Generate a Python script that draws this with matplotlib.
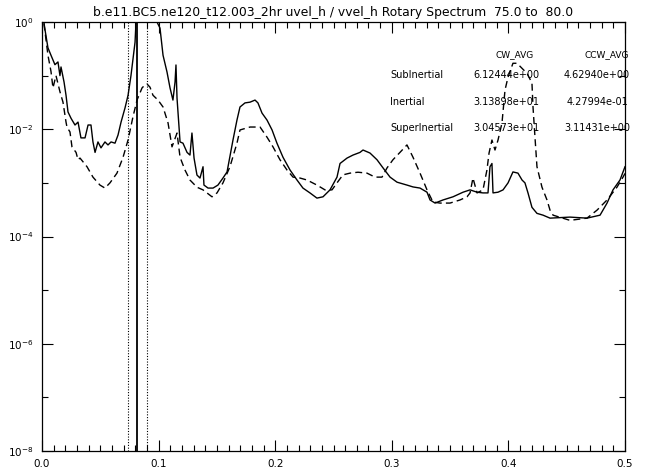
import numpy as np
import matplotlib
matplotlib.use("Agg")
import matplotlib.pyplot as plt
from matplotlib.ticker import FixedLocator, FuncFormatter, MultipleLocator

# Clockwise rotary power spectrum (solid)
cw_freq = [0.0005, 0.0023, 0.0051, 0.0077, 0.0111, 0.0137, 0.0154, 0.0163, 0.0189, 0.0206,
           0.0223, 0.0249, 0.0283, 0.0309, 0.0334, 0.0369, 0.0395, 0.0420, 0.0437, 0.0455,
           0.0480, 0.0506, 0.0540, 0.0566, 0.0592, 0.0626, 0.0652, 0.0678, 0.0712, 0.0738,
           0.0763, 0.0798, 0.0806, 0.0850, 0.0930, 0.0986, 0.1012, 0.1038, 0.1072, 0.1098,
           0.1123, 0.1141, 0.1149, 0.1158, 0.1184, 0.1209, 0.1244, 0.1269, 0.1286, 0.1304,
           0.1329, 0.1355, 0.1381, 0.1389, 0.1424, 0.1467, 0.1509, 0.1552, 0.1587, 0.1638,
           0.1672, 0.1698, 0.1741, 0.1784, 0.1827, 0.1852, 0.1887, 0.1930, 0.1973, 0.2015,
           0.2067, 0.2127, 0.2187, 0.2238, 0.2298, 0.2358, 0.2410, 0.2470, 0.2530, 0.2556,
           0.2616, 0.2667, 0.2727, 0.2753, 0.2813, 0.2873, 0.2925, 0.2985, 0.3045, 0.3130,
           0.3182, 0.3242, 0.3302, 0.3328, 0.3371, 0.3439, 0.3525, 0.3611, 0.3671, 0.3731,
           0.3782, 0.3825, 0.3842, 0.3859, 0.3868, 0.3911, 0.3954, 0.3997, 0.4039, 0.4082,
           0.4117, 0.4142, 0.4168, 0.4202, 0.4245, 0.4297, 0.4357, 0.4528, 0.4674, 0.4786,
           0.4846, 0.4897, 0.4957, 0.5000]
cw_power = [1.5, 0.78, 0.33, 0.24, 0.16, 0.18, 0.10, 0.145, 0.076, 0.043,
            0.021, 0.016, 0.012, 0.0136, 0.0069, 0.0069, 0.012, 0.012, 0.0058, 0.0037,
            0.0058, 0.0045, 0.0058, 0.0051, 0.0058, 0.0055, 0.0078, 0.0136, 0.025, 0.043,
            0.10, 0.42, 1.0, 30.0, 5.0, 1.0, 0.77, 0.24, 0.117, 0.059,
            0.035, 0.076, 0.158, 0.038, 0.0058, 0.0055, 0.0037, 0.0033, 0.0085, 0.0029,
            0.0014, 0.00123, 0.0020, 0.00091, 0.00080, 0.00080, 0.00091, 0.00123, 0.0016, 0.0063,
            0.0148, 0.026, 0.031, 0.032, 0.035, 0.031, 0.020, 0.0148, 0.0097, 0.0055,
            0.0030, 0.00174, 0.00113, 0.00080, 0.00065, 0.00052, 0.00055, 0.00074, 0.00128, 0.0023,
            0.0029, 0.0033, 0.0037, 0.0041, 0.0036, 0.0027, 0.0019, 0.00128, 0.00103, 0.00091,
            0.00084, 0.00080, 0.00067, 0.00048, 0.00042, 0.00048, 0.00055, 0.00067, 0.00074, 0.00067,
            0.00065, 0.00065, 0.0020, 0.0023, 0.00065, 0.00067, 0.00074, 0.00100, 0.0016, 0.00152,
            0.00113, 0.00100, 0.00065, 0.00035, 0.00027, 0.00025, 0.00022, 0.00023, 0.00022, 0.00025,
            0.00042, 0.00074, 0.00113, 0.0020]

# Counter-clockwise rotary power spectrum (dashed)
ccw_freq = [0.0005, 0.0026, 0.0051, 0.0077, 0.0094, 0.0120, 0.0154, 0.0180, 0.0206, 0.0214,
            0.0240, 0.0257, 0.0292, 0.0309, 0.0326, 0.0386, 0.0437, 0.0497, 0.0540, 0.0583,
            0.0643, 0.0695, 0.0738, 0.0780, 0.0815, 0.0858, 0.0883, 0.0900, 0.0926, 0.0952,
            0.0995, 0.1038, 0.1081, 0.1115, 0.1158, 0.1184, 0.1226, 0.1269, 0.1329, 0.1381,
            0.1458, 0.1501, 0.1552, 0.1612, 0.1672, 0.1698, 0.1784, 0.1870, 0.1930, 0.1981,
            0.2041, 0.2101, 0.2153, 0.2213, 0.2273, 0.2358, 0.2427, 0.2487, 0.2530, 0.2581,
            0.2642, 0.2710, 0.2787, 0.2856, 0.2916, 0.2959, 0.3010, 0.3070, 0.3130, 0.3182,
            0.3242, 0.3302, 0.3353, 0.3413, 0.3499, 0.3585, 0.3645, 0.3671, 0.3696, 0.3731,
            0.3782, 0.3816, 0.3834, 0.3859, 0.3885, 0.3911, 0.3945, 0.3971, 0.3997, 0.4039,
            0.4074, 0.4160, 0.4202, 0.4211, 0.4228, 0.4245, 0.4288, 0.4331, 0.4357, 0.4383,
            0.4528, 0.4674, 0.4760, 0.4846, 0.4931, 0.4983, 0.5000]
ccw_power = [1.5, 0.65, 0.24, 0.12, 0.059, 0.10, 0.05, 0.032, 0.0136, 0.011,
             0.0089, 0.0047, 0.0037, 0.0027, 0.0029, 0.0020, 0.00128, 0.00091, 0.00080, 0.00100,
             0.00152, 0.0030, 0.0063, 0.017, 0.035, 0.059, 0.067, 0.070, 0.061, 0.043,
             0.035, 0.026, 0.0131, 0.0047, 0.0085, 0.0030, 0.00174, 0.00113, 0.00083, 0.00074,
             0.00055, 0.00065, 0.00100, 0.0020, 0.0055, 0.0097, 0.011, 0.011, 0.0071, 0.0047,
             0.0027, 0.00174, 0.00128, 0.00123, 0.00113, 0.00091, 0.00074, 0.00074, 0.00100, 0.00141,
             0.00152, 0.00158, 0.00152, 0.00128, 0.00128, 0.0019, 0.0027, 0.0037, 0.0051, 0.0030,
             0.00152, 0.00074, 0.00044, 0.00042, 0.00042, 0.00048, 0.00055, 0.00065, 0.00123, 0.00065,
             0.00074, 0.00174, 0.0036, 0.0063, 0.0041, 0.0063, 0.0131, 0.054, 0.094, 0.17,
             0.17, 0.11, 0.073, 0.026, 0.0071, 0.0020, 0.00083, 0.00048, 0.00031, 0.00025,
             0.00020, 0.00022, 0.00031, 0.00048, 0.00083, 0.00128, 0.0015]

# Inertial frequency and the 0.9f / 1.1f band edges (cycles per hour)
inertial_freq = 0.0816
band_edges = [0.0734, 0.0898]

# Band-averaged power table
row_labels = ["SubInertial", "Inertial", "SuperInertial"]
col_labels = ["CW_AVG", "CCW_AVG"]
cw_avg = ["6.12444e+00", "3.13898e+01", "3.04573e+01"]
ccw_avg = ["4.62940e+00", "4.27994e-01", "3.11431e+00"]

title = "b.e11.BC5.ne120_t12.003_2hr uvel_h / vvel_h Rotary Spectrum  75.0 to  80.0"

fig = plt.figure(figsize=(6.48, 4.74), dpi=100)
ax = fig.add_axes([42 / 648, 1 - 451 / 474, 583 / 648, 429 / 474])

ax.plot(cw_freq, cw_power, color="black", lw=1.0)
ax.plot(ccw_freq, ccw_power, color="black", lw=1.0, dashes=(5, 3))

ax.axvline(inertial_freq, color="black", lw=1.3)
for edge in band_edges:
    ax.axvline(edge, color="black", lw=0.8, ls=(0, (1, 1.5)))

ax.set_yscale("log")
ax.set_xlim(0, 0.5)
ax.set_ylim(1e-8, 1e0)

ax.xaxis.set_major_locator(MultipleLocator(0.1))
ax.xaxis.set_minor_locator(MultipleLocator(0.01))
ax.xaxis.set_major_formatter(FuncFormatter(lambda v, p: f"{v:.1f}"))

ax.yaxis.set_major_locator(FixedLocator([1e0, 1e-2, 1e-4, 1e-6, 1e-8]))
ax.yaxis.set_minor_locator(FixedLocator([1e-1, 1e-3, 1e-5, 1e-7]))
ax.yaxis.set_major_formatter(FuncFormatter(lambda v, p: r"$10^{%d}$" % round(np.log10(v))))
ax.yaxis.set_minor_formatter(FuncFormatter(lambda v, p: ""))

ax.tick_params(which="both", direction="in", top=True, right=True, width=0.8,
               labelsize=7.5, pad=6)
ax.tick_params(axis="x", which="major", length=8)
ax.tick_params(axis="x", which="minor", length=4.5)
ax.tick_params(axis="y", which="major", length=8)
ax.tick_params(axis="y", which="minor", length=4)
for s in ax.spines.values():
    s.set_linewidth(0.9)

ax.set_title(title, fontsize=8.9, pad=4)

# Table of band averages, positioned in axes fraction
tx = lambda px: (px - 42) / 583
ty = lambda py: (451 - py) / 429
ax.text(tx(515), ty(55), col_labels[0], fontsize=6.5, ha="center", va="center", transform=ax.transAxes)
ax.text(tx(607), ty(55), col_labels[1], fontsize=6.5, ha="center", va="center", transform=ax.transAxes)
for py, lab, a, b in zip([75, 102, 128], row_labels, cw_avg, ccw_avg):
    ax.text(tx(390), ty(py), lab, fontsize=7, ha="left", va="center", transform=ax.transAxes)
    ax.text(tx(506), ty(py), a, fontsize=7, ha="center", va="center", transform=ax.transAxes)
    ax.text(tx(597), ty(py), b, fontsize=7, ha="center", va="center", transform=ax.transAxes,
            clip_on=False)

fig.savefig("out.png", dpi=100)
